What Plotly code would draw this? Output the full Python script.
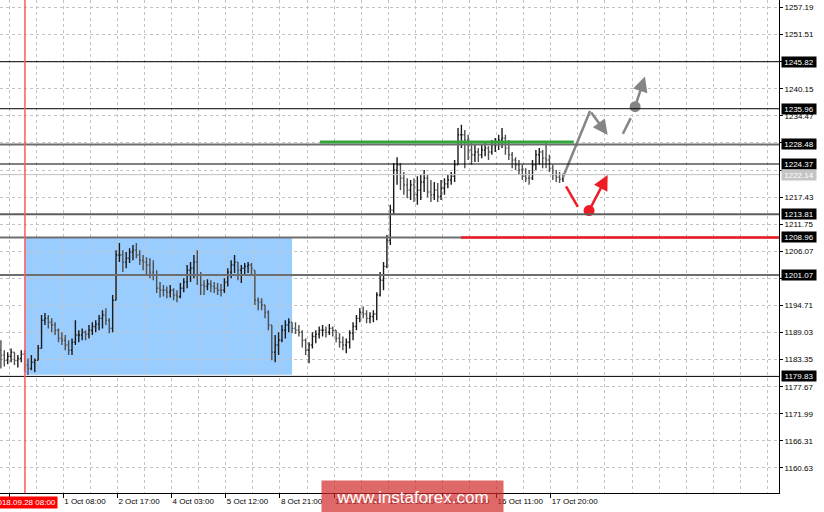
import plotly.graph_objects as go

# ---------------- data (H1-style bars) ----------------
HIGH = [
    1187.4, 1185.3, 1184.9, 1185.7, 1184.9, 1184.3, 1185.3, 1185.3, 1183.6, 1184.3,
    1183.6, 1186.4, 1192.7, 1193.1, 1192.7, 1192.0, 1191.2, 1189.9, 1189.1, 1188.5,
    1187.4, 1187.8, 1191.6, 1189.5, 1189.9, 1189.5, 1190.6, 1191.2, 1191.6, 1192.7,
    1193.7, 1194.1, 1192.0, 1196.9, 1206.3, 1207.8, 1206.3, 1205.9, 1206.7, 1207.4,
    1207.8, 1206.3, 1205.3, 1204.8, 1204.6, 1204.2, 1202.1, 1199.6, 1199.0, 1198.7,
    1199.0, 1198.3, 1197.9, 1199.4, 1200.4, 1203.2, 1203.8, 1205.3, 1206.3, 1201.7,
    1200.0, 1200.2, 1200.0, 1199.6, 1199.4, 1199.2, 1200.4, 1202.5, 1204.2, 1205.3,
    1203.8, 1203.2, 1203.6, 1203.8, 1203.6, 1202.1, 1196.4, 1196.2, 1194.8, 1193.7,
    1190.6, 1188.5, 1189.1, 1190.6, 1191.6, 1192.0, 1191.2, 1191.2, 1190.6, 1189.5,
    1187.8, 1187.0, 1189.1, 1189.5, 1190.3, 1190.6, 1190.3, 1190.8, 1190.3, 1189.5,
    1188.9, 1188.2, 1187.8, 1189.5, 1191.2, 1192.7, 1194.1, 1194.5, 1193.7, 1193.3,
    1193.7, 1197.5, 1201.7, 1203.8, 1209.5, 1215.8, 1224.6, 1225.8, 1224.6, 1222.7,
    1221.4, 1221.0, 1221.4, 1221.8, 1222.1, 1223.1, 1222.1, 1221.0, 1220.6, 1220.4,
    1221.0, 1221.4, 1222.1, 1222.7, 1225.2, 1231.9, 1232.6, 1231.5, 1230.5, 1229.0,
    1228.4, 1227.7, 1228.4, 1229.0, 1228.1, 1229.4, 1229.8, 1230.5, 1231.9, 1230.5,
    1229.4, 1226.9, 1225.8, 1225.2, 1224.2, 1223.5, 1223.1, 1225.2, 1227.3, 1227.7,
    1227.3, 1228.8, 1226.3, 1224.2, 1223.1, 1222.7, 1222.3,
]
LOW = [
    1181.5, 1181.9, 1182.4, 1182.8, 1182.2, 1181.7, 1182.8, 1180.7, 1180.1, 1181.1,
    1180.7, 1183.2, 1185.7, 1190.6, 1189.9, 1189.1, 1188.5, 1187.0, 1186.4, 1185.3,
    1184.3, 1184.3, 1186.4, 1187.0, 1187.4, 1187.4, 1187.8, 1188.5, 1189.1, 1189.5,
    1189.9, 1190.6, 1188.9, 1189.1, 1195.8, 1203.8, 1201.7, 1202.5, 1203.6, 1204.2,
    1204.6, 1203.2, 1202.1, 1201.1, 1200.4, 1200.0, 1197.3, 1196.4, 1196.6, 1196.2,
    1196.4, 1195.8, 1195.4, 1196.2, 1197.5, 1198.3, 1199.6, 1200.4, 1199.0, 1196.9,
    1196.9, 1197.9, 1197.5, 1197.3, 1196.9, 1196.6, 1197.3, 1198.7, 1200.4, 1201.5,
    1200.0, 1199.4, 1201.1, 1201.5, 1201.3, 1194.8, 1193.7, 1193.7, 1192.0, 1189.5,
    1183.2, 1182.8, 1184.3, 1187.0, 1187.8, 1189.1, 1188.9, 1188.7, 1188.2, 1185.9,
    1184.3, 1182.6, 1185.7, 1186.8, 1187.8, 1188.2, 1188.0, 1188.5, 1188.2, 1187.0,
    1185.9, 1185.3, 1184.7, 1185.7, 1187.4, 1189.5, 1191.2, 1192.0, 1191.0, 1191.0,
    1191.2, 1191.6, 1196.6, 1197.9, 1202.5, 1207.4, 1213.7, 1220.0, 1218.9, 1217.9,
    1217.2, 1216.8, 1216.4, 1215.8, 1216.8, 1218.5, 1217.4, 1216.4, 1216.8, 1216.4,
    1216.8, 1217.9, 1219.3, 1220.0, 1220.6, 1224.2, 1227.7, 1223.5, 1225.2, 1224.2,
    1224.8, 1224.8, 1225.6, 1226.0, 1225.2, 1226.3, 1226.9, 1227.3, 1227.7, 1226.3,
    1225.2, 1223.5, 1223.1, 1222.1, 1221.0, 1220.6, 1220.0, 1221.0, 1223.1, 1224.2,
    1223.5, 1223.5, 1222.7, 1221.0, 1220.6, 1220.4, 1220.6,
]
CLOSE = [
    1184.3, 1183.2, 1184.0, 1184.9, 1183.2, 1183.6, 1184.5, 1182.2, 1181.5, 1182.8,
    1183.2, 1185.7, 1191.6, 1192.0, 1191.2, 1190.6, 1189.5, 1187.8, 1187.4, 1186.4,
    1185.3, 1187.0, 1188.5, 1188.5, 1189.1, 1188.7, 1189.5, 1190.3, 1190.8, 1192.0,
    1192.7, 1191.6, 1189.9, 1195.8, 1205.3, 1205.3, 1203.8, 1204.6, 1205.9, 1206.3,
    1205.3, 1204.2, 1203.8, 1203.2, 1201.7, 1201.1, 1198.3, 1197.9, 1197.9, 1197.5,
    1197.9, 1196.9, 1196.6, 1198.3, 1199.6, 1202.1, 1202.5, 1203.8, 1201.1, 1199.0,
    1198.7, 1199.2, 1198.7, 1198.3, 1197.9, 1197.9, 1199.6, 1201.7, 1203.2, 1203.8,
    1202.1, 1202.5, 1202.9, 1203.2, 1202.5, 1195.8, 1195.4, 1194.8, 1193.3, 1190.6,
    1184.9, 1186.4, 1187.4, 1189.5, 1190.6, 1191.2, 1189.9, 1189.5, 1189.1, 1187.4,
    1185.3, 1186.4, 1188.2, 1188.7, 1189.5, 1189.5, 1189.1, 1189.9, 1189.5, 1187.8,
    1187.0, 1186.4, 1187.0, 1188.9, 1190.3, 1192.0, 1193.3, 1192.9, 1192.0, 1192.4,
    1192.9, 1196.9, 1200.0, 1202.9, 1208.4, 1214.7, 1223.1, 1224.2, 1221.4, 1220.0,
    1218.9, 1220.0, 1217.9, 1218.9, 1220.6, 1221.4, 1218.5, 1217.9, 1218.9, 1217.6,
    1219.3, 1220.2, 1221.0, 1221.8, 1224.2, 1230.5, 1230.5, 1229.4, 1227.3, 1226.3,
    1226.9, 1226.3, 1227.3, 1227.7, 1226.9, 1228.4, 1229.0, 1229.4, 1229.8, 1227.7,
    1226.3, 1225.2, 1224.2, 1223.1, 1221.8, 1221.4, 1221.4, 1224.2, 1226.3, 1226.9,
    1225.6, 1225.2, 1223.5, 1222.1, 1221.6, 1221.2, 1222.1,
]
FIRST_OPEN = 1185.3

Y_TICKS = [1257.19, 1251.51, 1245.83, 1240.15, 1234.47, 1228.79, 1223.11, 1217.43,
           1211.75, 1206.07, 1200.39, 1194.71, 1189.03, 1183.35, 1177.67, 1171.99,
           1166.31, 1160.63]
# labels hidden behind the level boxes in the original are left blank
Y_TICK_LABELS = ["1257.19", "1251.51", "", "1240.15", "1234.47", "", "", "1217.43",
                 "1211.75", "1206.07", "", "1194.71", "1189.03", "1183.35", "1177.67",
                 "1171.99", "1166.31", "1160.63"]

X_TICK_BARS = [2.4, 18.4, 34.4, 50.4, 66.4, 82.4, 98.4, 114.4, 130.4, 146.4, 162.4]
X_TICK_LABELS = ["", "1 Oct 08:00", "2 Oct 17:00", "4 Oct 03:00", "5 Oct 12:00",
                 "8 Oct 21:00", "10 Oct 07:00", "11 Oct 16:00", "15 Oct 02:00",
                 "16 Oct 11:00", "17 Oct 20:00"]

LEVELS = [1245.82, 1235.96, 1228.48, 1224.37, 1213.81, 1208.96, 1201.07, 1179.83]
CURRENT_PRICE = 1222.14

VLINE_BAR = 7.1
VLINE_LABEL = "2018.09.28 08:00"
BOX_BARS = [7.1, 86.0]
BOX_PRICES = [1180.2, 1208.96]

GREEN_BARS = [94.2, 169.2]
GREEN_PRICE = 1229.0
RED_BARS = [135.9, 229.8]
RED_PRICE = 1208.96

# forecast sketch (bar index, price)
GRAY_UP_X = [166.0, 174.0]
GRAY_UP_Y = [1221.6, 1235.5]
GRAY_DOWN_TAIL = (174.0, 1235.5)
GRAY_DOWN_HEAD = (179.2, 1230.45)
GRAY_SEG_X = [183.7, 186.0]
GRAY_SEG_Y = [1230.7, 1234.0]
GRAY_DOT = (187.3, 1236.4)
GRAY_UP_HEAD = (190.2, 1242.7)
RED_SEG_X = [166.9, 170.4]
RED_SEG_Y = [1219.7, 1215.4]
RED_DOT = (173.7, 1214.6)
RED_UP_HEAD = (179.2, 1222.05)

X_RANGE = [-0.27, 229.8]
Y_RANGE = [1155.38, 1258.76]

# ---------------- figure ----------------
OPEN = []
prev = FIRST_OPEN
for h, l, c in zip(HIGH, LOW, CLOSE):
    OPEN.append(min(max(prev, l), h))
    prev = c
BARS = list(range(len(CLOSE)))

FONT = "Liberation Sans"
GRAY = "#858585"
RED = "#ee1c25"

fig = go.Figure()
fig.add_trace(go.Ohlc(
    x=BARS, open=OPEN, high=HIGH, low=LOW, close=CLOSE,
    increasing=dict(line=dict(color="#1a1a1a", width=1.4)),
    decreasing=dict(line=dict(color="#4f4f4f", width=1.4)),
    tickwidth=0.35, hoverinfo="skip", showlegend=False))

fig.add_trace(go.Scatter(x=GRAY_UP_X, y=GRAY_UP_Y, mode="lines",
                         line=dict(color=GRAY, width=2.5), showlegend=False, hoverinfo="skip"))
fig.add_trace(go.Scatter(x=GRAY_SEG_X, y=GRAY_SEG_Y, mode="lines",
                         line=dict(color=GRAY, width=2.5), showlegend=False, hoverinfo="skip"))
fig.add_trace(go.Scatter(x=RED_SEG_X, y=RED_SEG_Y, mode="lines",
                         line=dict(color=RED, width=2.5), showlegend=False, hoverinfo="skip"))
fig.add_trace(go.Scatter(x=[GRAY_DOT[0]], y=[GRAY_DOT[1]], mode="markers",
                         marker=dict(color=GRAY, size=11), showlegend=False, hoverinfo="skip"))
fig.add_trace(go.Scatter(x=[RED_DOT[0]], y=[RED_DOT[1]], mode="markers",
                         marker=dict(color=RED, size=11), showlegend=False, hoverinfo="skip"))

shapes = []
shapes.append(dict(type="rect", xref="x", yref="y", x0=BOX_BARS[0], x1=BOX_BARS[1],
                   y0=BOX_PRICES[0], y1=BOX_PRICES[1], fillcolor="rgb(153,204,255)",
                   line=dict(width=0), layer="below"))
level_style = {
    1245.82: ("#000000", 1), 1235.96: ("#000000", 1), 1228.48: ("#6e6e6e", 2),
    1224.37: ("#000000", 1), 1213.81: ("#5e5e5e", 2), 1208.96: ("#6e6e6e", 2),
    1201.07: ("#6e6e6e", 2), 1179.83: ("#000000", 1),
}
shapes.append(dict(type="line", xref="paper", yref="y", x0=0, x1=1, y0=CURRENT_PRICE,
                   y1=CURRENT_PRICE, line=dict(color="#c0c0c0", width=1), layer="above"))
for lv in LEVELS:
    col, w = level_style[lv]
    shapes.append(dict(type="line", xref="paper", yref="y", x0=0, x1=1, y0=lv, y1=lv,
                       line=dict(color=col, width=w), layer="above"))
shapes.append(dict(type="line", xref="x", yref="y", x0=GREEN_BARS[0], x1=GREEN_BARS[1],
                   y0=GREEN_PRICE, y1=GREEN_PRICE, line=dict(color="rgb(50,165,60)", width=3),
                   layer="above"))
shapes.append(dict(type="line", xref="x", yref="y", x0=RED_BARS[0], x1=RED_BARS[1],
                   y0=RED_PRICE, y1=RED_PRICE, line=dict(color=RED, width=2.5),
                   layer="above"))
shapes.append(dict(type="line", xref="x", yref="paper", x0=VLINE_BAR, x1=VLINE_BAR,
                   y0=0, y1=1, line=dict(color="#ff5a5a", width=1.5), layer="above"))

annotations = []
for tail, head, col in [(GRAY_DOWN_TAIL, GRAY_DOWN_HEAD, GRAY),
                        (GRAY_DOT, GRAY_UP_HEAD, GRAY),
                        (RED_DOT, RED_UP_HEAD, RED)]:
    annotations.append(dict(x=head[0], y=head[1], ax=tail[0], ay=tail[1],
                            xref="x", yref="y", axref="x", ayref="y", text="",
                            showarrow=True, arrowhead=2, arrowsize=1.2, arrowwidth=2.5,
                            arrowcolor=col, standoff=0, startstandoff=0))
for lv in LEVELS:
    annotations.append(dict(x=1, y=lv, xref="paper", yref="y", xanchor="left",
                            yanchor="middle", xshift=2, text=f"{lv:.2f}", showarrow=False,
                            bgcolor="#000000", font=dict(color="white", size=8, family=FONT),
                            width=34, height=10, borderpad=0))
annotations.append(dict(x=1, y=CURRENT_PRICE, xref="paper", yref="y", xanchor="left",
                        yanchor="middle", xshift=2, text=f"{CURRENT_PRICE:.2f}",
                        showarrow=False, bgcolor="#c4c4c4",
                        font=dict(color="white", size=8, family=FONT),
                        width=34, height=10, borderpad=0))
annotations.append(dict(x=VLINE_BAR, y=0, xref="x", yref="paper", xanchor="center",
                        yanchor="top", yshift=-3, text=VLINE_LABEL, showarrow=False,
                        bgcolor="#ff0000", font=dict(color="white", size=8, family=FONT),
                        borderpad=1))
annotations.append(dict(x=412.5 / 779, y=-4 / 493, xref="paper", yref="paper",
                        xanchor="center", yanchor="middle", text="www.instaforex.com",
                        showarrow=False, bgcolor="rgba(210,40,40,0.7)", width=179, height=30,
                        font=dict(color="white", size=17, family=FONT)))

fig.update_layout(
    width=824, height=512, autosize=False,
    margin=dict(l=0, r=45, t=0, b=19, pad=0),
    paper_bgcolor="white", plot_bgcolor="white",
    shapes=shapes, annotations=annotations, showlegend=False,
    font=dict(family=FONT, size=8, color="black"),
    xaxis=dict(range=X_RANGE, rangeslider=dict(visible=False), type="linear",
               tickmode="array", tickvals=X_TICK_BARS, ticktext=X_TICK_LABELS,
               ticks="outside", ticklen=4, tickcolor="black", tickangle=0,
               ticklabelposition="outside right",
               tickfont=dict(size=8, family=FONT, color="black"),
               showline=True, linecolor="black", linewidth=1, mirror=False,
               showgrid=False, zeroline=False,
               minor=dict(tick0=2.4, dtick=8, showgrid=True, gridcolor="#c3c3c3",
                          griddash="3px,3px", gridwidth=1, ticks="")),
    yaxis=dict(range=Y_RANGE, side="right", tickmode="array", tickvals=Y_TICKS,
               ticktext=Y_TICK_LABELS, ticks="outside", ticklen=3,
               tickcolor="black", tickfont=dict(size=8, family=FONT, color="black"),
               showline=True, linecolor="black", linewidth=1,
               showgrid=True, gridcolor="#c3c3c3", griddash="3px,3px", gridwidth=1,
               zeroline=False),
)

fig.write_html("out.html", config={"displayModeBar": False},
               post_script="document.body.style.margin='0';")
